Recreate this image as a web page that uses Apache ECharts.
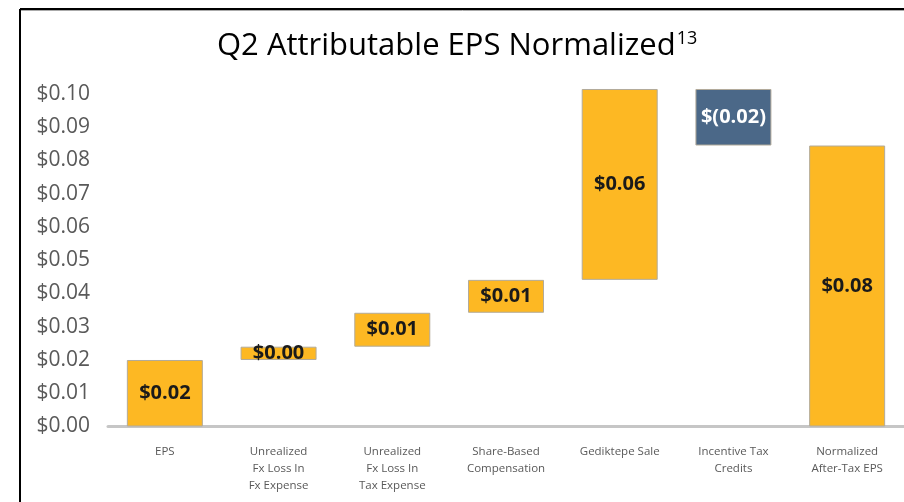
<!DOCTYPE html>
<html>
<head>
<meta charset="utf-8">
<script src="https://cdn.jsdelivr.net/npm/echarts@6/dist/echarts.min.js"></script>
<style>
  body { margin: 0; background: #fff; }
  #chart { width: 904px; height: 502px; }
</style>
</head>
<body>
<div id="chart"></div>
<script>
// categories along the x axis
var categories = [
  'EPS',
  'Unrealized\nFx Loss In\nFx Expense',
  'Unrealized\nFx Loss In\nTax Expense',
  'Share-Based\nCompensation',
  'Gediktepe Sale',
  'Incentive Tax\nCredits',
  'Normalized\nAfter-Tax EPS'
];
// signed step of each bar
var changes = [0.020, 0.004, 0.0102, 0.0099, 0.0574, -0.017, 0.0845];
// bars that start from zero (totals)
var isTotal = [true, false, false, false, false, false, true];
// printed labels on the bars
var barLabels = ['$0.02', '$0.00', '$0.01', '$0.01', '$0.06', '$(0.02)', '$0.08'];

var yellow = '#FDB823';
var blue = '#4B6888';

// build the invisible base and the visible part of each waterfall step
var baseData = [];
var stepData = [];
var running = 0;
for (var i = 0; i < changes.length; i++) {
  var d = changes[i];
  if (isTotal[i]) {
    baseData.push(0);
    stepData.push({ value: d, itemStyle: { color: yellow } });
    running = d;
  } else if (d >= 0) {
    baseData.push(running);
    stepData.push({ value: d, itemStyle: { color: yellow } });
    running += d;
  } else {
    running += d;
    baseData.push(running);
    stepData.push({ value: -d, itemStyle: { color: blue }, label: { color: '#fff' } });
  }
}

var myChart = echarts.init(document.getElementById('chart'));

var options = {
  backgroundColor: '#fff',
  animation: false,
  title: {
    text: '{a|Q2 Attributable EPS Normalized}{b|13}',
    left: 217,
    top: 27,
    padding: 0,
    textStyle: {
      fontWeight: 'normal',
      rich: {
        a: { fontFamily: 'Open Sans', fontSize: 31, fontWeight: 'normal', color: '#000', lineHeight: 38 },
        b: { fontFamily: 'Open Sans', fontSize: 18, fontWeight: 'normal', color: '#000', padding: [0, 0, 15, 1] }
      }
    }
  },
  graphic: [
    { type: 'line', shape: { x1: 20, y1: 9, x2: 904, y2: 9 }, style: { stroke: '#000', lineWidth: 2 } },
    { type: 'line', shape: { x1: 20, y1: 9, x2: 20, y2: 502 }, style: { stroke: '#000', lineWidth: 2 } },
    { type: 'line', shape: { x1: 21, y1: 10.5, x2: 904, y2: 10.5 }, style: { stroke: '#aaa', lineWidth: 1 } }
  ],
  grid: {
    left: 108,
    top: 88,
    width: 801,
    height: 338.5
  },
  xAxis: {
    type: 'category',
    data: categories,
    axisLine: { lineStyle: { color: '#c6c6c6', width: 3 } },
    axisTick: { show: false },
    axisLabel: {
      interval: 0,
      margin: 17,
      fontFamily: 'Open Sans',
      fontSize: 11.5,
      lineHeight: 17,
      color: '#595959'
    }
  },
  yAxis: {
    type: 'value',
    min: 0,
    max: 0.1018,
    interval: 0.01,
    axisLine: { show: false },
    axisTick: { show: false },
    splitLine: { show: false },
    axisLabel: {
      showMaxLabel: false,
      margin: 18,
      fontFamily: 'Open Sans',
      fontSize: 21,
      color: '#595959',
      formatter: function (v) {
        return v > 0.1001 ? '' : '$' + v.toFixed(2);
      }
    }
  },
  series: [
    {
      name: 'base',
      type: 'bar',
      stack: 'wf',
      barWidth: 76,
      silent: true,
      itemStyle: { color: 'transparent' },
      data: baseData
    },
    {
      name: 'step',
      type: 'bar',
      stack: 'wf',
      barWidth: 76,
      itemStyle: { borderColor: '#b3ab9a', borderWidth: 1 },
      label: {
        show: true,
        position: 'inside',
        fontFamily: 'Open Sans',
        fontWeight: 'bold',
        fontSize: 20,
        color: '#1a1a1a',
        formatter: function (p) { return barLabels[p.dataIndex]; }
      },
      data: stepData
    }
  ]
};

myChart.setOption(options, true);
</script>
</body>
</html>
